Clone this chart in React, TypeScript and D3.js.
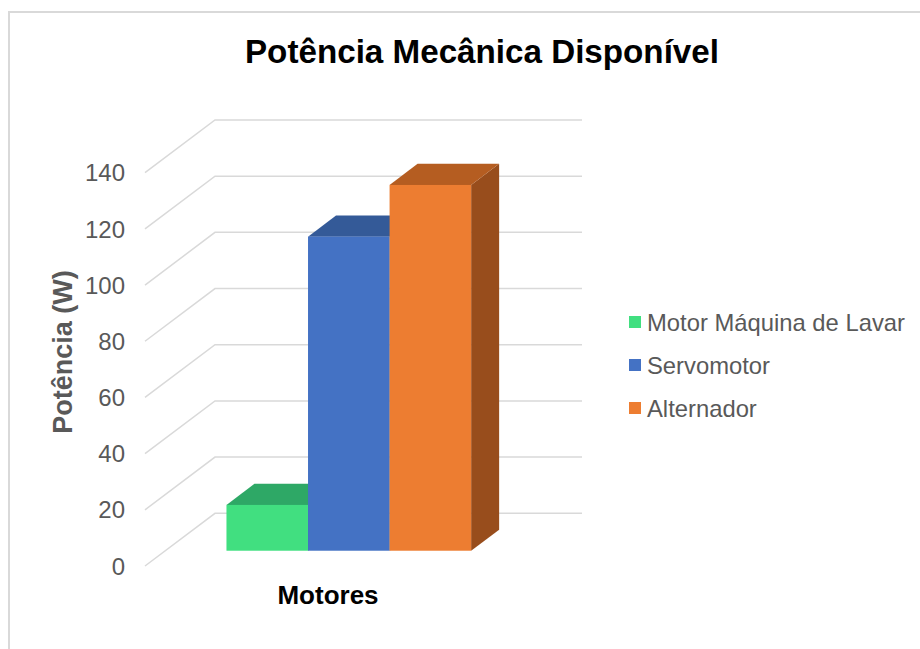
import { useEffect, useRef } from 'react'
import * as d3 from 'd3'

const category = 'Motores'
const seriesNames = ['Motor Máquina de Lavar', 'Servomotor', 'Alternador']
const seriesValues = [16.3, 111.8, 130.2]
const yTicks = [0, 20, 40, 60, 80, 100, 120, 140]

const frontColors = ['#41df80', '#4472c4', '#ed7d31']
const topColors = ['#2ea866', '#345a98', '#b55d21']
const sideColors = ['#2a9a5c', '#2e5290', '#984d1c']

const App = () => {
  const svgRef = useRef<SVGSVGElement | null>(null)

  useEffect(() => {
    if (!svgRef.current) return
    const svg = d3.select(svgRef.current)
    svg.selectAll('*').remove()

    const width = 920
    const height = 649
    const font = "'Liberation Sans', Arial, sans-serif"

    svg.attr('width', width).attr('height', height)

    // chart area border
    svg
      .append('rect')
      .attr('x', 9)
      .attr('y', 12)
      .attr('width', 940)
      .attr('height', 660)
      .attr('fill', 'white')
      .attr('stroke', '#d9d9d9')
      .attr('stroke-width', 2)

    // floor front edge, depth vector of the 3d box
    const x0 = 145
    const x1 = 512
    const depth = { x: 70, y: -52.7 }
    const barFront = 0.29
    const barBack = 0.69

    const y = d3.scaleLinear().domain([0, 140]).range([566, 172.7])

    const xSeries = d3
      .scaleBand<string>()
      .domain(seriesNames)
      .range([x0, x1])
      .paddingInner(0)
      .paddingOuter(0.75)

    // gridlines: side wall diagonal + back wall horizontal
    const grid = svg.append('g')
    yTicks.forEach((t) => {
      const yf = y(t)
      grid
        .append('path')
        .attr(
          'd',
          `M${x0},${yf}L${x0 + depth.x},${yf + depth.y}L${x1 + depth.x},${yf + depth.y}`
        )
        .attr('fill', 'none')
        .attr('stroke', '#d9d9d9')
        .attr('stroke-width', 1.5)
    })

    // tick labels
    svg
      .append('g')
      .selectAll('text')
      .data(yTicks)
      .join('text')
      .attr('x', 125)
      .attr('y', (d) => y(d))
      .attr('dy', '0.36em')
      .attr('text-anchor', 'end')
      .attr('font-family', font)
      .attr('font-size', '24px')
      .attr('fill', '#595959')
      .text((d) => d)

    // bars
    const bars = svg.append('g')
    seriesNames.forEach((name, i) => {
      const v = seriesValues[i]
      const fx = xSeries(name)! + barFront * depth.x
      const bw = xSeries.bandwidth()
      const fy0 = y(0) + barFront * depth.y
      const fy1 = y(v) + barFront * depth.y
      const dx = (barBack - barFront) * depth.x
      const dy = (barBack - barFront) * depth.y

      // side
      bars
        .append('path')
        .attr(
          'd',
          `M${fx + bw},${fy1}L${fx + bw + dx},${fy1 + dy}L${fx + bw + dx},${fy0 + dy}L${fx + bw},${fy0}Z`
        )
        .attr('fill', sideColors[i])
      // top
      bars
        .append('path')
        .attr(
          'd',
          `M${fx},${fy1}L${fx + dx},${fy1 + dy}L${fx + bw + dx},${fy1 + dy}L${fx + bw},${fy1}Z`
        )
        .attr('fill', topColors[i])
      // front
      bars
        .append('rect')
        .attr('x', fx)
        .attr('y', fy1)
        .attr('width', bw)
        .attr('height', fy0 - fy1)
        .attr('fill', frontColors[i])
    })

    // title
    svg
      .append('text')
      .attr('x', 482)
      .attr('y', 63)
      .attr('text-anchor', 'middle')
      .attr('font-family', font)
      .attr('font-size', '33.2px')
      .attr('font-weight', 'bold')
      .attr('fill', '#000')
      .text('Potência Mecânica Disponível')

    // x axis title
    svg
      .append('text')
      .attr('x', 328)
      .attr('y', 604)
      .attr('text-anchor', 'middle')
      .attr('font-family', font)
      .attr('font-size', '26px')
      .attr('font-weight', 'bold')
      .attr('fill', '#000')
      .text(category)

    // y axis title
    svg
      .append('text')
      .attr('transform', 'translate(72,352) rotate(-90)')
      .attr('text-anchor', 'middle')
      .attr('font-family', font)
      .attr('font-size', '27px')
      .attr('font-weight', 'bold')
      .attr('fill', '#595959')
      .text('Potência (W)')

    // legend
    const legend = svg
      .append('g')
      .selectAll('g')
      .data(seriesNames)
      .join('g')
      .attr('transform', (_d, i) => `translate(629,${322 + i * 43})`)
    legend
      .append('rect')
      .attr('x', 0)
      .attr('y', -6)
      .attr('width', 12)
      .attr('height', 12)
      .attr('fill', (_d, i) => frontColors[i])
    legend
      .append('text')
      .attr('x', 18)
      .attr('y', 0)
      .attr('dy', '0.36em')
      .attr('font-family', font)
      .attr('font-size', '23.8px')
      .attr('fill', '#595959')
      .text((d) => d)
  }, [])

  return (
    <svg
      ref={svgRef}
      style={{ position: 'absolute', left: 0, top: 0, display: 'block' }}
    ></svg>
  )
}

export default App
